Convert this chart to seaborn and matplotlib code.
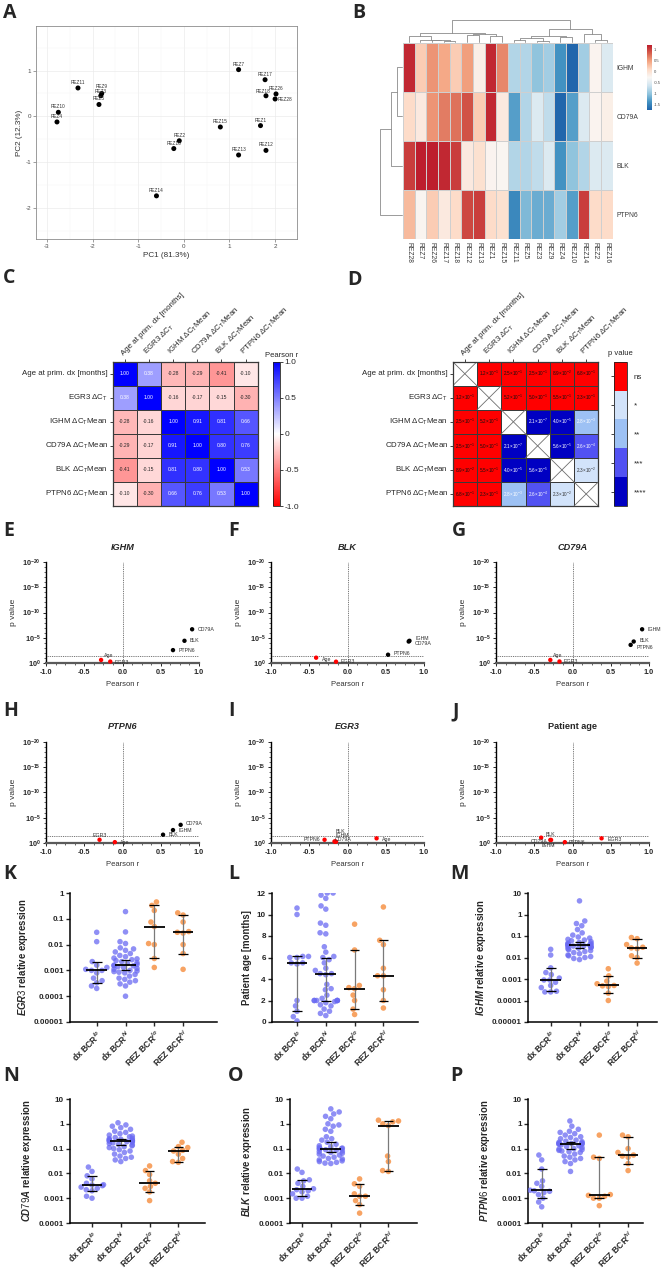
import math

import matplotlib
matplotlib.use("Agg")
import matplotlib.pyplot as plt
import numpy as np
import pandas as pd
import seaborn as sns
from matplotlib.colors import LinearSegmentedColormap, ListedColormap
from matplotlib.patches import Rectangle
from matplotlib.ticker import FixedLocator, FuncFormatter, MultipleLocator, NullFormatter, NullLocator

FIG_W, FIG_H = 663, 1272

# ---------------- A: PCA ----------------
PCA_SAMPLES = ["REZ7", "REZ17", "REZ18", "REZ26", "REZ28", "REZ1", "REZ15", "REZ13", "REZ12",
               "REZ2", "REZ16", "REZ14", "REZ11", "REZ9", "REZ3", "REZ5", "REZ10", "REZ4"]
PC1 = [1.2, 1.78, 1.8, 2.02, 2.0, 1.68, 0.8, 1.2, 1.8, -0.1, -0.22, -0.6, -2.32, -1.8, -1.82, -1.86, -2.75, -2.78]
PC2 = [1.02, 0.8, 0.45, 0.49, 0.38, -0.2, -0.23, -0.84, -0.74, -0.53, -0.7, -1.73, 0.62, 0.5, 0.45, 0.26, 0.09, -0.12]

# ---------------- B: clustered heatmap ----------------
HEAT_SAMPLES = ["REZ28", "REZ7", "REZ26", "REZ17", "REZ18", "REZ12", "REZ13", "REZ1", "REZ15",
                "REZ11", "REZ5", "REZ3", "REZ9", "REZ4", "REZ10", "REZ14", "REZ2", "REZ16"]
HEAT_GENES = ["IGHM", "CD79A", "BLK", "PTPN6"]
Z_IGHM = [1.14, 0.19, 0.55, 0.43, 0.19, 0.49, -0.17, 1.14, 0.61, -0.84, -0.84, -1.03, -0.93, -1.40, -1.77, -0.93, -0.23, -0.56]
Z_CD79A = [0.07, -0.11, 0.55, 0.67, 0.73, 0.90, 0.19, 1.14, -0.11, -1.31, -0.84, -0.56, -0.75, -1.77, -1.31, -0.56, -0.23, -0.17]
Z_BLK = [1.02, 1.2, 1.2, 1.14, 1.02, -0.11, 0.01, -0.23, -0.26, -0.84, -0.84, -0.75, -0.56, -1.40, -1.03, -0.84, -0.56, -0.56]
Z_PTPN6 = [0.31, -0.25, 0.19, -0.11, 0.07, 0.96, 1.02, 0.07, 0.01, -1.49, -1.12, -1.21, -1.21, -0.93, -1.31, 1.02, 0.07, 0.07]
# (child a, child b, merge height); ids >= n are earlier merges
COL_MERGES = [(3, 4, 0.03), (2, 18, 0.05), (1, 19, 0.09), (0, 20, 0.24), (5, 6, 0.28), (7, 8, 0.24),
              (22, 23, 0.37), (21, 24, 0.41), (9, 10, 0.09), (11, 12, 0.04), (26, 27, 0.15),
              (13, 14, 0.22), (28, 29, 0.26), (16, 17, 0.09), (15, 31, 0.36), (30, 32, 0.59), (25, 33, 1.0)]
ROW_MERGES = [(0, 1, 0.22), (4, 2, 0.48), (5, 3, 1.0)]

# ---------------- C / D: correlation matrix ----------------
CORR_LABELS = ["Age at prim. dx [months]", r"EGR3 ΔC$_\mathrm{T}$", r"IGHM ΔC$_\mathrm{T}$Mean",
               r"CD79A ΔC$_\mathrm{T}$Mean", r"BLK ΔC$_\mathrm{T}$Mean", r"PTPN6 ΔC$_\mathrm{T}$Mean"]
SHORT_NAMES = ["Age", "EGR3", "IGHM", "CD79A", "BLK", "PTPN6"]
CORR_R = [[1.00, 0.38, -0.28, -0.29, -0.41, -0.10],
          [0.38, 1.00, -0.16, -0.17, -0.15, -0.30],
          [-0.28, -0.16, 1.00, 0.91, 0.81, 0.66],
          [-0.29, -0.17, 0.91, 1.00, 0.80, 0.76],
          [-0.41, -0.15, 0.81, 0.80, 1.00, 0.53],
          [-0.10, -0.30, 0.66, 0.76, 0.53, 1.00]]
CORR_P = [[1.0, 1.2e-1, 2.5e-1, 2.5e-1, 8.9e-2, 6.8e-1],
          [1.2e-1, 1.0, 5.2e-1, 5.0e-1, 5.5e-1, 2.3e-1],
          [2.5e-1, 5.2e-1, 1.0, 2.1e-7, 4.0e-5, 2.8e-3],
          [2.5e-1, 5.0e-1, 2.1e-7, 1.0, 5.6e-5, 2.6e-4],
          [8.9e-2, 5.5e-1, 4.0e-5, 5.6e-5, 1.0, 2.3e-2],
          [6.8e-1, 2.3e-1, 2.8e-3, 2.6e-4, 2.3e-2, 1.0]]
STAR_LABELS = ["****", "***", "**", "*", "ns"]

# ---------------- E-J: volcano panels ----------------
VOLCANO_PANELS = [("E", "IGHM", "IGHM"), ("F", "BLK", "BLK"), ("G", "CD79A", "CD79A"),
                  ("H", "PTPN6", "PTPN6"), ("I", "EGR3", "EGR3"), ("J", "Age", "Patient age")]

# ---------------- K-P: expression per group ----------------
GROUP_KEYS = ["dx_lo", "dx_hi", "rez_lo", "rez_hi"]
GROUP_LABELS = [r"dx BCR$^{lo}$", r"dx BCR$^{hi}$", r"REZ BCR$^{lo}$", r"REZ BCR$^{hi}$"]

EGR3_DX_LO = [0.03, 0.013, 0.0022, 0.0016, 0.0013, 0.0011, 0.001, 0.001, 0.0008, 0.0005, 0.0004, 0.00033, 0.00025, 0.0002]
EGR3_DX_HI = [0.19, 0.031, 0.013, 0.011, 0.0075, 0.0068, 0.006, 0.0052, 0.0045, 0.0038, 0.0034, 0.003, 0.0028, 0.0026,
              0.0024, 0.0022, 0.002, 0.0019, 0.0017, 0.0016, 0.0015, 0.0015, 0.0014, 0.0013, 0.0012, 0.0011, 0.001,
              0.00095, 0.0009, 0.00085, 0.0008, 0.0007, 0.0006, 0.0005, 0.00045, 0.0004, 0.00035, 0.0003, 0.00025, 0.0001]
EGR3_REZ_LO = [0.45, 0.33, 0.21, 0.075, 0.05, 0.011, 0.01, 0.0029, 0.0013]
EGR3_REZ_HI = [0.17, 0.14, 0.075, 0.032, 0.03, 0.028, 0.01, 0.0045, 0.0011]

AGE_DX_LO = [10.6, 10.0, 6.1, 6.1, 6.0, 6.0, 5.5, 5.5, 5.4, 2.0, 1.5, 1.0, 0.5, 0.1]
AGE_DX_HI = [0.6, 0.8, 1.0, 1.2, 1.5, 1.6, 1.8, 1.9, 2.0, 2.0, 2.0, 2.0, 2.0, 2.0, 2.2, 2.5, 3.0, 3.1, 3.5, 4.4,
             4.5, 4.5, 4.8, 5.0, 5.5, 5.8, 6.0, 6.1, 6.5, 7.0, 8.2, 8.3, 9.0, 9.2, 10.5, 10.8, 11.5, 11.8, 12.0, 12.0]
AGE_REZ_LO = [9.1, 6.7, 3.4, 3.2, 3.1, 2.5, 2.0, 1.2, 0.7]
AGE_REZ_HI = [10.7, 7.6, 7.2, 5.0, 4.3, 4.3, 3.0, 2.0, 1.3]

IGHM_DX_LO = [0.024, 0.013, 0.0033, 0.002, 0.0016, 0.0011, 0.0009, 0.0009, 0.0007, 0.0005, 0.0004, 0.00027, 0.00025, 0.00025]
IGHM_DX_HI = [4.3, 0.5, 0.38, 0.3, 0.2, 0.14, 0.11, 0.09, 0.08, 0.07, 0.065, 0.06, 0.055, 0.05, 0.047, 0.045, 0.042,
              0.04, 0.039, 0.038, 0.036, 0.035, 0.034, 0.032, 0.031, 0.03, 0.029, 0.027, 0.025, 0.023, 0.021, 0.019,
              0.017, 0.015, 0.013, 0.012, 0.011, 0.01, 0.009, 0.008]
IGHM_REZ_LO = [0.003, 0.0014, 0.0008, 0.0006, 0.0005, 0.00048, 0.00045, 0.00022, 0.0001]
IGHM_REZ_HI = [0.085, 0.075, 0.04, 0.03, 0.028, 0.026, 0.012, 0.01, 0.0055]

CD79A_DX_LO = [0.018, 0.012, 0.008, 0.006, 0.004, 0.0035, 0.0034, 0.0032, 0.0028, 0.0025, 0.0022, 0.002, 0.0012, 0.001]
CD79A_DX_HI = [1.1, 0.9, 0.8, 0.7, 0.6, 0.5, 0.45, 0.4, 0.35, 0.32, 0.3, 0.28, 0.26, 0.25, 0.24, 0.23, 0.22, 0.21,
               0.21, 0.2, 0.2, 0.19, 0.18, 0.17, 0.16, 0.15, 0.14, 0.13, 0.12, 0.11, 0.1, 0.09, 0.08, 0.07, 0.06,
               0.05, 0.045, 0.04, 0.035, 0.03]
CD79A_REZ_LO = [0.02, 0.013, 0.009, 0.005, 0.004, 0.003, 0.0025, 0.0018, 0.0008]
CD79A_REZ_HI = [0.18, 0.12, 0.11, 0.085, 0.08, 0.06, 0.04, 0.03, 0.028]

BLK_DX_LO = [0.015, 0.011, 0.0055, 0.005, 0.004, 0.003, 0.0024, 0.0022, 0.002, 0.0018, 0.0015, 0.0012, 0.001, 0.001]
BLK_DX_HI = [4.0, 3.0, 2.5, 2.0, 1.6, 1.0, 0.9, 0.8, 0.6, 0.5, 0.3, 0.25, 0.22, 0.18, 0.15, 0.13, 0.12, 0.11, 0.105,
             0.1, 0.1, 0.095, 0.09, 0.085, 0.08, 0.075, 0.07, 0.065, 0.06, 0.055, 0.05, 0.045, 0.04, 0.038, 0.035,
             0.032, 0.03, 0.028, 0.026, 0.025]
BLK_REZ_LO = [0.006, 0.0038, 0.003, 0.0015, 0.0012, 0.0012, 0.0008, 0.00055, 0.00025]
BLK_REZ_HI = [1.4, 1.3, 1.2, 1.0, 0.85, 0.05, 0.03, 0.013, 0.012]

PTPN6_DX_LO = [0.055, 0.035, 0.015, 0.005, 0.004, 0.003, 0.0021, 0.002, 0.0019, 0.0017, 0.0014, 0.001, 0.0007, 0.00045]
PTPN6_DX_HI = [1.3, 0.8, 0.6, 0.5, 0.45, 0.4, 0.35, 0.3, 0.28, 0.25, 0.22, 0.2, 0.19, 0.18, 0.17, 0.165, 0.16, 0.16,
               0.155, 0.15, 0.15, 0.14, 0.13, 0.12, 0.11, 0.1, 0.095, 0.09, 0.085, 0.08, 0.075, 0.07, 0.06, 0.05,
               0.045, 0.04, 0.035, 0.03, 0.025, 0.012]
PTPN6_REZ_LO = [0.35, 0.045, 0.04, 0.0014, 0.0013, 0.0012, 0.001, 0.001, 0.0005]
PTPN6_REZ_HI = [0.35, 0.3, 0.1, 0.07, 0.055, 0.05, 0.045, 0.025, 0.013]

# ---------------- styles ----------------
BLUE = "#6A6AF2"
ORANGE = "#F5842F"
HEAT_COLORS = ["#2166AC", "#4393C3", "#92C5DE", "#D1E5F0", "#F9F7F5", "#FDDBC7", "#F4A582", "#D6604D", "#BD1E2D"]
PCA_LABEL_OFFSETS = {"REZ28": (7, -2.5), "REZ18": (-2, 1.5), "REZ3": (0, 1.0), "REZ9": (0, 3.2)}
VOLCANO_COLUMNS = [(46, 199), (271, 424), (496, 649)]
VOLCANO_ROWS = [(562, 663), (741.7, 843)]
VOLCANO_LABEL_STYLE = {
    "IGHM": {"CD79A": (4, 0, "left"), "BLK": (4, 0, "left"), "PTPN6": (4, 0, "left"),
             "Age": (2, 3.5, "left"), "EGR3": (3, -0.5, "left")},
    "BLK": {"IGHM": (4, 1.5, "left"), "CD79A": (4, -1.5, "left"), "PTPN6": (4, 1, "left"),
            "Age": (4, -1, "left"), "EGR3": (3, 0, "left")},
    "CD79A": {"IGHM": (4, 0, "left"), "BLK": (4, 1, "left"), "PTPN6": (4, -2, "left"),
              "Age": (2, 3.5, "left"), "EGR3": (3, 0, "left")},
    "PTPN6": {"CD79A": (4, 1, "left"), "IGHM": (4, 0, "left"), "BLK": (4, 0, "left"),
              "EGR3": (0, 3, "center"), "Age": (4, 0, "left")},
    "EGR3": {"BLK": (0, 7, "left"), "IGHM": (0, 4.5, "left"), "CD79A": (0, 1.5, "left"),
             "PTPN6": (-3, 0.5, "right"), "Age": (4, -1, "left")},
    "Age": {"BLK": (3, 2, "left"), "CD79A": (-2, -1, "right"), "IGHM": (-2, -4, "center"),
            "PTPN6": (3, 0, "left"), "EGR3": (4, -1, "left")},
}
# axis left, first category, axis right (pixels) for K..P
DOT_BOXES = {"K": (70, 96.7, 216.7), "L": (272, 297, 418), "M": (528, 550.7, 657),
             "N": (70, 92, 205), "O": (290, 302, 417), "P": (528, 541.7, 643)}
DOT_ROWS = {"K": (893, 1022), "L": (893, 1022), "M": (893, 1022),
            "N": (1099, 1223), "O": (1099, 1223), "P": (1099, 1223)}
CAT_STEP = 28.8


def px_axes(fig, left, top, right, bottom):
    return fig.add_axes([left / FIG_W, 1 - bottom / FIG_H, (right - left) / FIG_W, (bottom - top) / FIG_H])


def panel_letter(fig, letter, x, y):
    fig.text(x / FIG_W, 1 - y / FIG_H, letter, fontsize=14, fontweight="bold",
             family="Open Sans", ha="left", va="top")


def draw_pca(fig):
    ax = px_axes(fig, 36, 26, 297, 239)
    pca_df = pd.DataFrame({"sample": PCA_SAMPLES, "PC1": PC1, "PC2": PC2})
    sns.scatterplot(data=pca_df, x="PC1", y="PC2", color="black", s=13, edgecolor="none", ax=ax, zorder=3)
    for row in pca_df.itertuples(index=False):
        dx, dy = PCA_LABEL_OFFSETS.get(row.sample, (0, 2.2))
        ax.annotate(row.sample, (row.PC1, row.PC2), xytext=(dx, dy), textcoords="offset points",
                    ha="center", va="bottom", fontsize=3.4, color="#333333")
    ax.set_xlim(-3.24, 2.48)
    ax.set_ylim(-2.67, 1.97)
    ax.set_xticks(range(-3, 3))
    ax.set_yticks(range(-2, 2))
    ax.xaxis.set_minor_locator(MultipleLocator(0.5))
    ax.yaxis.set_minor_locator(MultipleLocator(0.5))
    ax.grid(which="major", color="#EBEBEB", lw=0.5)
    ax.grid(which="minor", color="#F5F5F5", lw=0.35)
    ax.set_axisbelow(True)
    ax.tick_params(which="minor", length=0)
    ax.tick_params(which="major", length=2, width=0.4, color="#555555", labelsize=4.5,
                   labelcolor="#4D4D4D", pad=1.5)
    for spine in ax.spines.values():
        spine.set_visible(True)
        spine.set_color("#8C8C8C")
        spine.set_linewidth(0.6)
    ax.set_xlabel("PC1 (81.3%)", fontsize=5.9, color="#333333", labelpad=2)
    ax.set_ylabel("PC2 (12.3%)", fontsize=5.9, color="#333333", labelpad=2)


def draw_dendrogram(ax, merges, n_leaves, orient):
    pos = {i: i + 0.5 for i in range(n_leaves)}
    height = {i: 0.0 for i in range(n_leaves)}
    for k, (a, b, h) in enumerate(merges):
        xs = [pos[a], pos[a], pos[b], pos[b]]
        hs = [height[a], h, h, height[b]]
        if orient == "top":
            ax.plot(xs, hs, color="#8A8A8A", lw=0.6, clip_on=False)
        else:
            ax.plot(hs, xs, color="#8A8A8A", lw=0.6, clip_on=False)
        pos[n_leaves + k] = (pos[a] + pos[b]) / 2
        height[n_leaves + k] = h


def draw_clustermap(fig):
    z_df = pd.DataFrame([Z_IGHM, Z_CD79A, Z_BLK, Z_PTPN6], index=HEAT_GENES, columns=HEAT_SAMPLES)
    ax = px_axes(fig, 403, 42.7, 612.7, 239.3)
    cax = px_axes(fig, 647, 45, 652, 110)
    cmap = LinearSegmentedColormap.from_list("heat_rdbu", HEAT_COLORS)
    sns.heatmap(z_df, cmap=cmap, vmin=-1.77, vmax=1.2, linewidths=0.4, linecolor="#CFCFCF",
                xticklabels=True, yticklabels=True, cbar_ax=cax, ax=ax)
    ax.yaxis.tick_right()
    ax.set_yticklabels(HEAT_GENES, rotation=0)
    ax.set_xticklabels(HEAT_SAMPLES, rotation=270)
    ax.tick_params(axis="y", length=0, labelsize=4.9, labelcolor="#3C3C3C", pad=3)
    ax.tick_params(axis="x", length=0, labelsize=4.9, labelcolor="#3C3C3C", pad=2)
    ax.set_xlabel("")
    ax.set_ylabel("")
    cbar = ax.collections[0].colorbar
    cbar.set_ticks([1, 0.5, 0, -0.5, -1, -1.5])
    cbar.set_ticklabels(["1", "0.5", "0", "-0.5", "-1", "-1.5"])
    cbar.ax.tick_params(labelsize=3, length=0, pad=1.5, labelcolor="#444444")
    cbar.outline.set_visible(False)

    dax = px_axes(fig, 403, 20, 612.7, 41.5)
    draw_dendrogram(dax, COL_MERGES, len(HEAT_SAMPLES), "top")
    dax.set_xlim(0, len(HEAT_SAMPLES))
    dax.set_ylim(0, 1)
    dax.axis("off")

    rax = px_axes(fig, 380, 42.7, 401.5, 239.3)
    draw_dendrogram(rax, ROW_MERGES, len(HEAT_GENES), "left")
    rax.set_xlim(1, 0)
    rax.set_ylim(len(HEAT_GENES), 0)
    rax.axis("off")


def style_matrix(ax):
    ax.xaxis.tick_top()
    ax.set_xticklabels(CORR_LABELS)
    ax.set_yticklabels(CORR_LABELS, rotation=0)
    for lbl in ax.get_xticklabels():
        lbl.set_rotation(45)
        lbl.set_ha("left")
        lbl.set_va("bottom")
        lbl.set_rotation_mode("anchor")
    ax.tick_params(axis="both", length=2.5, width=0.6, labelsize=5.7, pad=1, color="#222222")
    ax.set_xlabel("")
    ax.set_ylabel("")
    for spine in ax.spines.values():
        spine.set_visible(True)
        spine.set_color("#3A3A3A")
        spine.set_linewidth(0.9)


def draw_corr(fig):
    corr_df = pd.DataFrame(CORR_R, index=CORR_LABELS, columns=CORR_LABELS)
    ax = px_axes(fig, 112.7, 361.7, 257.7, 506)
    cax = px_axes(fig, 272.7, 361.7, 279.5, 506)
    cmap = LinearSegmentedColormap.from_list("red_white_blue", ["#FF0000", "#FFFFFF", "#0000FF"])
    sns.heatmap(corr_df, cmap=cmap, vmin=-1, vmax=1, annot=True, fmt=".2f",
                annot_kws={"fontsize": 3.6}, linewidths=0.7, linecolor="#3A3A3A",
                xticklabels=True, yticklabels=True, cbar_ax=cax, ax=ax)
    style_matrix(ax)
    cbar = ax.collections[0].colorbar
    cbar.set_ticks([-1, -0.5, 0, 0.5, 1])
    cbar.set_ticklabels(["-1.0", "-0.5", "0", "0.5", "1.0"])
    cbar.ax.tick_params(labelsize=6, length=2, width=0.6, pad=1.5)
    cbar.outline.set_linewidth(0.6)
    cbar.outline.set_edgecolor("#222222")
    cax.text(-1.2, 1.02, "Pearson r", transform=cax.transAxes, ha="left", va="bottom", fontsize=5.5)


def format_p(p):
    exponent = int(np.floor(np.log10(p)))
    mantissa = p / 10 ** exponent
    return rf"${mantissa:.1f}{{\times}}10^{{{exponent}}}$"


def draw_pvalues(fig):
    p = np.array(CORR_P)
    levels = np.digitize(p, [1e-4, 1e-3, 1e-2, 0.05])
    level_df = pd.DataFrame(levels, index=CORR_LABELS, columns=CORR_LABELS)
    n = len(CORR_LABELS)
    mask = np.eye(n, dtype=bool)
    ax = px_axes(fig, 452.7, 361.7, 598.3, 506)
    cax = px_axes(fig, 614, 361.7, 627, 506)
    cmap = ListedColormap(["#0000C2", "#5252F2", "#9DC1F4", "#D2E3FA", "#FF0000"])
    sns.heatmap(level_df, mask=mask, cmap=cmap, vmin=-0.5, vmax=4.5, linewidths=0.7,
                linecolor="#3A3A3A", xticklabels=True, yticklabels=True, cbar_ax=cax, ax=ax)
    text_colors = ["white", "white", "white", "#333333", "#111111"]
    for i in range(n):
        for j in range(n):
            if i == j:
                ax.add_patch(Rectangle((j, i), 1, 1, fill=False, ec="#3A3A3A", lw=0.7))
                ax.plot([j, j + 1], [i, i + 1], color="#6E6E6E", lw=0.6)
                ax.plot([j, j + 1], [i + 1, i], color="#6E6E6E", lw=0.6)
            else:
                ax.text(j + 0.5, i + 0.5, format_p(p[i, j]), ha="center", va="center",
                        fontsize=3.3, color=text_colors[levels[i, j]])
    style_matrix(ax)
    cbar = ax.collections[0].colorbar
    cbar.set_ticks(range(5))
    cbar.set_ticklabels(STAR_LABELS)
    cbar.ax.tick_params(left=True, right=False, labelleft=False, labelright=True,
                        labelsize=5.8, length=2, width=0.6, pad=3)
    cbar.outline.set_linewidth(0.6)
    cbar.outline.set_edgecolor("#222222")
    cax.text(-0.5, 1.03, "p value", transform=cax.transAxes, ha="left", va="bottom", fontsize=5.5)


def draw_volcano(fig, box, key, title):
    left, right, top, bottom = box
    ax = px_axes(fig, left, top, right, bottom)
    row = SHORT_NAMES.index(key)
    names = [name for k, name in enumerate(SHORT_NAMES) if k != row]
    r_vals = [CORR_R[row][k] for k in range(len(SHORT_NAMES)) if k != row]
    p_vals = [CORR_P[row][k] for k in range(len(SHORT_NAMES)) if k != row]
    vdf = pd.DataFrame({"name": names, "r": r_vals, "p": p_vals})
    vdf["sig"] = np.where(vdf["p"] < 0.05, "sig", "ns")

    ax.set_yscale("log")
    sns.scatterplot(data=vdf, x="r", y="p", hue="sig", palette={"sig": "black", "ns": "#FF0000"},
                    s=10, edgecolor="none", legend=False, ax=ax, zorder=4, clip_on=False)
    ax.set_xlim(-1, 1)
    ax.set_ylim(1, 1e-20)
    ax.axvline(0, color="#444444", lw=0.55, ls=(0, (1.2, 1.2)), zorder=1)
    ax.axhline(0.05, color="#444444", lw=0.55, ls=(0, (1.2, 1.2)), zorder=1)
    styles = VOLCANO_LABEL_STYLE[key]
    for rowv in vdf.itertuples(index=False):
        dx, dy, ha = styles[rowv.name]
        ax.annotate(rowv.name, (rowv.r, rowv.p), xytext=(dx, dy), textcoords="offset points",
                    ha=ha, va="center", fontsize=3.8, color="#333333", zorder=5)

    ax.yaxis.set_major_locator(FixedLocator([1, 1e-5, 1e-10, 1e-15, 1e-20]))
    ax.yaxis.set_minor_locator(FixedLocator([10.0 ** -k for k in range(21)]))
    ax.yaxis.set_minor_formatter(NullFormatter())
    ax.xaxis.set_major_locator(FixedLocator([-1, -0.5, 0, 0.5, 1]))
    ax.xaxis.set_minor_locator(MultipleLocator(0.125))
    ax.xaxis.set_major_formatter(FuncFormatter(lambda v, _: f"{v:.1f}"))
    ax.tick_params(which="major", length=2.5, width=0.7, labelsize=5.2, pad=1.5)
    ax.tick_params(which="minor", length=1.3, width=0.5)
    for lbl in ax.get_xticklabels() + ax.get_yticklabels():
        lbl.set_fontweight("bold")
    sns.despine(ax=ax)
    ax.spines["left"].set_linewidth(1.0)
    ax.spines["bottom"].set_linewidth(1.6)
    ax.spines["bottom"].set_color("#5A5A5A")
    ax.set_xlabel("Pearson r", fontsize=5.5, color="#333333")
    ax.set_ylabel("p value", fontsize=6.0, color="#333333")
    ax.xaxis.set_label_coords(0.5, -0.18)
    ax.yaxis.set_label_coords(-0.19, 0.5)
    italic = "normal" if key == "Age" else "italic"
    ax.set_title(title, fontsize=6.6, fontweight="bold", fontstyle=italic, pad=9)


def median_ci(values):
    v = np.sort(np.asarray(values, dtype=float))
    n = len(v)
    cdf = np.cumsum([math.comb(n, k) for k in range(n + 1)]) / 2 ** n
    r = int(np.searchsorted(cdf, 0.025, side="right"))
    return np.median(v), v[max(r - 1, 0)], v[n - max(r, 1)]


def draw_dots(fig, panel, groups, ylabel, log, ylim, yticks):
    left, first, right = DOT_BOXES[panel]
    top, bottom = DOT_ROWS[panel]
    ax = px_axes(fig, left, top, right, bottom)
    dot_df = pd.concat([pd.DataFrame({"group": key, "value": vals}) for key, vals in zip(GROUP_KEYS, groups)],
                       ignore_index=True)
    palette = dict(zip(GROUP_KEYS, [BLUE, BLUE, ORANGE, ORANGE]))
    if log:
        ax.set_yscale("log")
    ax.set_ylim(*ylim)
    sns.swarmplot(data=dot_df, x="group", y="value", hue="group", order=GROUP_KEYS, hue_order=GROUP_KEYS,
                  palette=palette, size=4.0, alpha=0.75, linewidth=0, legend=False, warn_thresh=1,
                  log_scale=log, ax=ax, zorder=3)
    for i, vals in enumerate(groups):
        med, lo, hi = median_ci(vals)
        ax.vlines(i, lo, hi, color="#7A7A7A", lw=0.9, zorder=4)
        ax.hlines([lo, hi], i - 0.17, i + 0.17, color="black", lw=0.9, zorder=5)
        ax.hlines(med, i - 0.36, i + 0.36, color="black", lw=1.3, zorder=6)
    ax.set_xlim(-(first - left) / CAT_STEP, (right - first) / CAT_STEP)
    ax.set_ylim(*ylim)
    ax.yaxis.set_major_locator(FixedLocator(yticks))
    ax.yaxis.set_minor_locator(NullLocator())
    ax.yaxis.set_major_formatter(FuncFormatter(lambda v, _: np.format_float_positional(v, trim="-")))
    ax.set_xticks(range(len(GROUP_KEYS)))
    ax.set_xticklabels(GROUP_LABELS)
    for lbl in ax.get_xticklabels():
        lbl.set_rotation(45)
        lbl.set_ha("right")
        lbl.set_va("top")
        lbl.set_rotation_mode("anchor")
        lbl.set_fontweight("bold")
    for lbl in ax.get_yticklabels():
        lbl.set_fontweight("bold")
    ax.tick_params(axis="y", length=3, width=1, labelsize=5.9, pad=1.5)
    ax.tick_params(axis="x", length=3, width=1, labelsize=6.2, pad=1.5)
    sns.despine(ax=ax)
    ax.spines["left"].set_linewidth(1.1)
    ax.spines["bottom"].set_linewidth(1.1)
    ax.set_xlabel("")
    ax.set_ylabel(ylabel, fontsize=6.9, fontweight="bold", labelpad=3)


def main():
    sns.set_theme(style="ticks")
    plt.rcParams["font.family"] = ["Liberation Sans", "DejaVu Sans"]
    plt.rcParams["axes.unicode_minus"] = False
    plt.rcParams["mathtext.fontset"] = "custom"
    plt.rcParams["mathtext.rm"] = "Liberation Sans"
    plt.rcParams["mathtext.it"] = "Liberation Sans:italic:bold"
    plt.rcParams["mathtext.bf"] = "Liberation Sans:bold"
    plt.rcParams["axes.edgecolor"] = "black"

    fig = plt.figure(figsize=(FIG_W / 100, FIG_H / 100), dpi=100)

    draw_pca(fig)
    draw_clustermap(fig)
    draw_corr(fig)
    draw_pvalues(fig)

    for idx, (letter, key, title) in enumerate(VOLCANO_PANELS):
        left, right = VOLCANO_COLUMNS[idx % 3]
        top, bottom = VOLCANO_ROWS[idx // 3]
        draw_volcano(fig, (left, right, top, bottom), key, title)

    log5 = [1e-5, 1e-4, 1e-3, 1e-2, 1e-1, 1]
    log6 = [1e-5, 1e-4, 1e-3, 1e-2, 1e-1, 1, 10]
    log4 = [1e-4, 1e-3, 1e-2, 1e-1, 1, 10]
    draw_dots(fig, "K", [EGR3_DX_LO, EGR3_DX_HI, EGR3_REZ_LO, EGR3_REZ_HI],
              r"$\mathit{EGR3}$ relative expression", True, (1e-5, 1), log5)
    draw_dots(fig, "L", [AGE_DX_LO, AGE_DX_HI, AGE_REZ_LO, AGE_REZ_HI],
              "Patient age [months]", False, (0, 12), list(range(0, 13, 2)))
    draw_dots(fig, "M", [IGHM_DX_LO, IGHM_DX_HI, IGHM_REZ_LO, IGHM_REZ_HI],
              r"$\mathit{IGHM}$ relative expression", True, (1e-5, 10), log6)
    draw_dots(fig, "N", [CD79A_DX_LO, CD79A_DX_HI, CD79A_REZ_LO, CD79A_REZ_HI],
              r"$\mathit{CD79A}$ relative expression", True, (1e-4, 10), log4)
    draw_dots(fig, "O", [BLK_DX_LO, BLK_DX_HI, BLK_REZ_LO, BLK_REZ_HI],
              r"$\mathit{BLK}$ relative expression", True, (1e-4, 10), log4)
    draw_dots(fig, "P", [PTPN6_DX_LO, PTPN6_DX_HI, PTPN6_REZ_LO, PTPN6_REZ_HI],
              r"$\mathit{PTPN6}$ relative expression", True, (1e-4, 10), log4)

    letters = [("A", 3, 3), ("B", 352, 3), ("C", 3, 268), ("D", 347, 270),
               ("E", 3, 521), ("F", 228, 521), ("G", 452, 521),
               ("H", 3, 701), ("I", 228, 701), ("J", 452, 701),
               ("K", 3, 864), ("L", 228, 864), ("M", 450, 864),
               ("N", 3, 1066), ("O", 228, 1066), ("P", 450, 1066)]
    for letter, x, y in letters:
        panel_letter(fig, letter, x, y)

    fig.savefig("out.png", dpi=100)
    plt.close(fig)


if __name__ == "__main__":
    main()
